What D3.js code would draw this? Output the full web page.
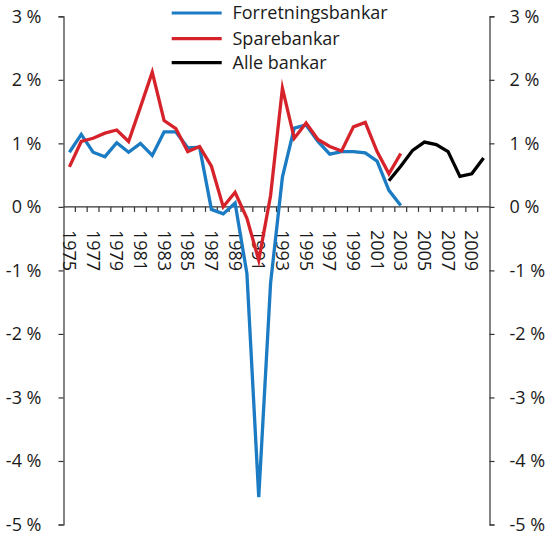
<!DOCTYPE html>
<html><head><meta charset="utf-8">
<script src="https://cdn.jsdelivr.net/npm/d3@7"></script>
<style>
html,body{margin:0;padding:0;background:#fff;}
svg text{font-family:"Open Sans",sans-serif;font-size:18px;fill:#1a1a1a;}
</style></head>
<body><svg id="c" width="550" height="537"></svg>
<script>
const years = d3.range(1975, 2011);
const forretningsYears = d3.range(1975, 2004);
const forretningsValues = [0.86,1.14,0.86,0.79,1.01,0.86,1.00,0.81,1.18,1.18,0.93,0.94,-0.04,-0.11,0.06,-1.05,-4.57,-1.2,0.47,1.24,1.29,1.03,0.83,0.87,0.87,0.85,0.72,0.26,0.02];
const spareYears = d3.range(1975, 2004);
const spareValues = [0.63,1.03,1.08,1.16,1.21,1.03,1.57,2.12,1.36,1.23,0.87,0.95,0.64,0.0,0.23,-0.18,-0.84,0.18,1.87,1.08,1.32,1.06,0.95,0.88,1.26,1.33,0.87,0.52,0.84];
const alleYears = d3.range(2002, 2011);
const alleValues = [0.41,0.64,0.89,1.02,0.98,0.87,0.48,0.52,0.77];
const yTicks = [-5,-4,-3,-2,-1,0,1,2,3];
const labelYears = d3.range(1975, 2010, 2);
const seriesNames = ["Forretningsbankar","Sparebankar","Alle bankar"];
const seriesColors = ["#1b7bc3","#d6232b","#000000"];

const svg = d3.select("#c");
const L = 63.5, R = 489.5;
const x = d3.scaleBand().domain(years).range([L, R]).padding(0);
const y = d3.scaleLinear().domain([-5, 3]).range([524.5, 16.3]);
const bw = x.bandwidth();
const axisColor = "#333";

// left axis
const gl = svg.append("g").attr("transform", `translate(${L},0)`)
  .call(d3.axisLeft(y).tickValues(yTicks).tickSize(5).tickPadding(17).tickFormat(d => d + " %"));
// right axis
const gr = svg.append("g").attr("transform", `translate(${R},0)`)
  .call(d3.axisRight(y).tickValues(yTicks).tickSize(5).tickPadding(15).tickFormat(d => d + " %"));
[gl, gr].forEach(g => {
  g.select(".domain").attr("stroke", axisColor).attr("stroke-width", 1.2);
  g.selectAll(".tick line").attr("stroke", axisColor).attr("stroke-width", 1.2);
  g.selectAll(".tick text").attr("font-size", null).attr("font-family", null).style("font-size","18px").style("font-family",'"Open Sans",sans-serif').attr("fill","#1a1a1a");
  g.attr("font-size", null).attr("font-family", null);
});

// x axis at zero
const y0 = y(0);
svg.append("line").attr("x1", L).attr("x2", R).attr("y1", y0).attr("y2", y0)
  .attr("stroke", axisColor).attr("stroke-width", 1.2);
svg.append("g").selectAll("line").data(years.slice(1)).join("line")
  .attr("x1", d => x(d)).attr("x2", d => x(d))
  .attr("y1", y0).attr("y2", y0 + 5)
  .attr("stroke", axisColor).attr("stroke-width", 1.2);
svg.append("g").selectAll("text").data(labelYears).join("text")
  .attr("transform", d => `translate(${x(d) + bw / 2},${y0 + 23}) rotate(90)`)
  .attr("dy", "0.35em").attr("text-anchor", "start")
  .text(d => d);

// lines
const line = d3.line().x(d => x(d[0]) + bw / 2).y(d => y(d[1]));
const series = [
  d3.zip(forretningsYears, forretningsValues),
  d3.zip(spareYears, spareValues),
  d3.zip(alleYears, alleValues)
];
svg.append("g").selectAll("path").data(series).join("path")
  .attr("d", line).attr("fill", "none")
  .attr("stroke", (d, i) => seriesColors[i])
  .attr("stroke-width", 3.3).attr("stroke-linejoin", "miter").attr("stroke-miterlimit", 10);

// legend
const lg = svg.append("g");
const legY = [13, 38.7, 62.7];
seriesNames.forEach((n, i) => {
  lg.append("line").attr("x1", 171.7).attr("x2", 221.7).attr("y1", legY[i]).attr("y2", legY[i])
    .attr("stroke", seriesColors[i]).attr("stroke-width", 3.2);
  lg.append("text").attr("x", 232.5).attr("y", legY[i]).attr("dy", "0.35em").text(n);
});
</script></body></html>
